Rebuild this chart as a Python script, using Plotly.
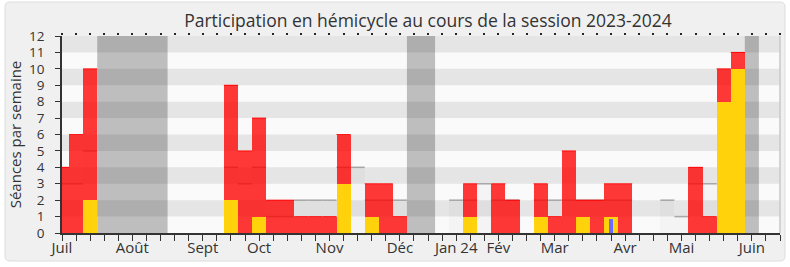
import plotly.graph_objects as go

# ---------------- data (weekly, index 0 = first week of July 2023) ----------------
n_weeks = 51
month_pos = [0, 5, 10, 14, 19, 24, 28, 31, 35, 40, 44, 49]
month_labels = ["Juil", "Août", "Sept", "Oct", "Nov", "Déc", "Jan 24", "Fév", "Mar", "Avr", "Mai", "Juin"]

# vacation periods (first week, last week)
vacances = [(3, 7), (25, 26), (49, 49)]

# median presence of all deputies (grey)
median = {0: 3, 1: 3, 2: 5, 12: 4, 13: 3, 14: 4, 15: 1, 16: 1, 17: 2, 18: 2, 19: 2,
          20: 4, 21: 4, 22: 2, 23: 2, 24: 2, 28: 2, 29: 2, 30: 3, 31: 2, 32: 2,
          34: 2, 35: 2, 36: 2, 37: 2, 38: 2, 39: 2, 40: 2, 43: 2, 44: 1, 45: 3,
          46: 3, 47: 3, 48: 3}
# presences (red)
presences = {0: 4, 1: 6, 2: 10, 12: 9, 13: 5, 14: 7, 15: 2, 16: 2, 17: 1, 18: 1, 19: 1,
             20: 6, 22: 3, 23: 3, 24: 1, 29: 3, 31: 3, 32: 2, 34: 3, 35: 1, 36: 5,
             37: 2, 38: 2, 39: 3, 40: 3, 45: 4, 46: 1, 47: 10, 48: 11}
# interventions (yellow)
interventions = {2: 2, 12: 2, 14: 1, 20: 3, 22: 1, 29: 1, 34: 1, 37: 1, 39: 1, 47: 8, 48: 10}
# questions orales (blue)
questions = {39: 0.85}

title = "Participation en hémicycle au cours de la session 2023-2024"
ytitle = "Séances par semaine"

FONT = "Open Sans"
TXT = "#333333"

# ---------------- geometry helpers ----------------
L, R, T, B = 62, 10, 36, 34
W, H = 790, 267
pw, ph = W - L - R, H - T - B


def px_x(p):
    return (p - L) / pw


def px_y(p):
    return (H - B - p) / ph


fig = go.Figure()

# median grey bars
mx = sorted(median)
fig.add_trace(go.Bar(x=mx, y=[median[k] for k in mx], width=1,
                     marker=dict(color="rgba(0,0,0,0.025)", line=dict(width=0)),
                     hoverinfo="skip", showlegend=False))

# presences red
px_ = sorted(presences)
fig.add_trace(go.Bar(x=px_, y=[presences[k] for k in px_], width=1,
                     marker=dict(color="rgba(255,0,0,0.78)", line=dict(width=0)),
                     hoverinfo="skip", showlegend=False))
rx, ry = [], []
for k in px_:
    rx += [k - 0.5, k + 0.5, None]
    ry += [presences[k], presences[k], None]
fig.add_trace(go.Scatter(x=rx, y=ry, mode="lines", line=dict(color="rgba(255,0,0,0.9)", width=1),
                         hoverinfo="skip", showlegend=False))

# interventions yellow
ix = sorted(interventions)
fig.add_trace(go.Bar(x=ix, y=[interventions[k] for k in ix], width=1,
                     marker=dict(color="#ffd20c", line=dict(width=0)),
                     hoverinfo="skip", showlegend=False))

# questions blue
qx = sorted(questions)
fig.add_trace(go.Bar(x=qx, y=[questions[k] for k in qx], width=0.26,
                     marker=dict(color="#6b6bff", line=dict(width=0)),
                     hoverinfo="skip", showlegend=False))

# dummy trace for top tick axis
fig.add_trace(go.Scatter(x=[0], y=[0], xaxis="x2", mode="markers",
                         marker=dict(opacity=0), hoverinfo="skip", showlegend=False))

shapes = []
# rounded outer frame
x0, x1 = px_x(5), px_x(785)
y1, y0 = px_y(2), px_y(261)
rx_, ry_ = 5 / pw, 5 / ph
path = (f"M {x0+rx_},{y1} L {x1-rx_},{y1} Q {x1},{y1} {x1},{y1-ry_} "
        f"L {x1},{y0+ry_} Q {x1},{y0} {x1-rx_},{y0} L {x0+rx_},{y0} "
        f"Q {x0},{y0} {x0},{y0+ry_} L {x0},{y1-ry_} Q {x0},{y1} {x0+rx_},{y1} Z")
shapes.append(dict(type="path", path=path, xref="paper", yref="paper",
                   fillcolor="#f0f0f0", line=dict(color="#dddddd", width=1), layer="below"))
# plot area background
shapes.append(dict(type="rect", xref="paper", yref="paper", x0=0, x1=1, y0=0, y1=1,
                   fillcolor="#fafafa", line=dict(width=0), layer="below"))
# stripes
for yv in range(1, 12, 2):
    shapes.append(dict(type="rect", xref="paper", yref="y", x0=0, x1=1, y0=yv, y1=yv + 1,
                       fillcolor="#e5e5e5", line=dict(width=0), layer="below"))
# vacations
for a, b in vacances:
    shapes.append(dict(type="rect", xref="x", yref="paper", x0=a - 0.5, x1=b + 0.5, y0=0, y1=1,
                       fillcolor="rgba(0,0,0,0.24)", line=dict(width=0), layer="below"))
# median top lines (below the bars)
for k in mx:
    shapes.append(dict(type="line", xref="x", yref="y", x0=k - 0.5, x1=k + 0.5,
                       y0=median[k], y1=median[k], line=dict(color="#a8a8a8", width=1.5),
                       layer="below"))
# right border
shapes.append(dict(type="line", xref="paper", yref="paper", x0=1, x1=1, y0=0, y1=1,
                   line=dict(color="#c8c8c8", width=1.5)))

fig.update_layout(
    width=W, height=H,
    margin=dict(l=L, r=R, t=T, b=B, pad=0),
    paper_bgcolor="#ffffff",
    plot_bgcolor="rgba(0,0,0,0)",
    barmode="overlay",
    bargap=0,
    shapes=shapes,
    font=dict(family=FONT, color=TXT, size=14),
    title=dict(text=title, x=428 / W, xref="container", xanchor="center",
               y=1 - 20.5 / H, yref="container", yanchor="middle",
               font=dict(family=FONT, size=17.5, color=TXT)),
    xaxis=dict(range=[0, n_weeks], tickvals=month_pos, ticktext=month_labels,
               ticks="outside", ticklen=6, tickcolor=TXT, tickwidth=1,
               minor=dict(dtick=1, tick0=0, ticks="outside", ticklen=6, tickcolor=TXT, tickwidth=1),
               showline=True, linecolor=TXT, linewidth=1.5, showgrid=False, zeroline=False,
               tickfont=dict(size=15, color=TXT), fixedrange=True, automargin=False,
               ticklabelstandoff=-6),
    xaxis2=dict(range=[0, n_weeks], overlaying="x", side="top", anchor="y",
                tickmode="linear", tick0=0, dtick=1, ticks="outside", ticklen=2,
                tickcolor="#222", tickwidth=1.5, showticklabels=False, showline=False,
                showgrid=False, zeroline=False, automargin=False),
    yaxis=dict(range=[0, 12], tickmode="linear", tick0=0, dtick=1,
               ticks="outside", ticklen=5, tickcolor=TXT, showline=True, linecolor=TXT,
               linewidth=1.5, showgrid=False, zeroline=False, ticklabelstandoff=8,
               tickfont=dict(size=13.5, color=TXT), automargin=False,
               title=dict(text=ytitle, font=dict(size=15, color=TXT), standoff=4)),
)

fig.write_html("out.html")
